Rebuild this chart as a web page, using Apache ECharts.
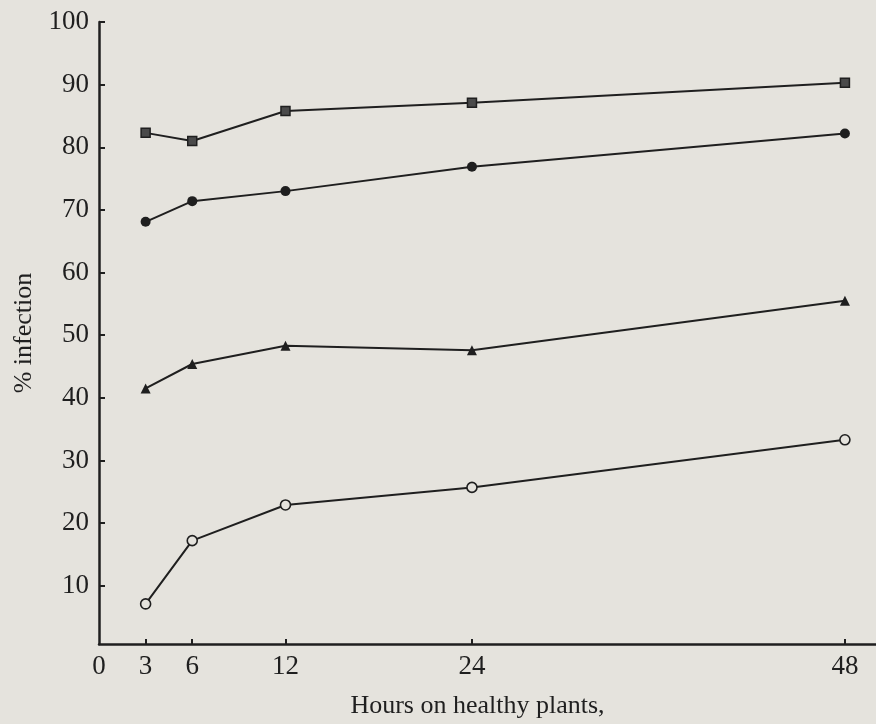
<!DOCTYPE html>
<html>
<head>
<meta charset="utf-8">
<script src="https://cdn.jsdelivr.net/npm/echarts@6/dist/echarts.min.js"></script>
<style>
html,body{margin:0;padding:0;background:#e5e3dd;}
#chart{width:876px;height:724px;}
</style>
</head>
<body>
<div id="chart"></div>
<script>
// Data
var hours = [3, 6, 12, 24, 48];
var squareSeries = [82.3, 81.0, 85.8, 87.1, 90.3];
var filledCircleSeries = [68.1, 71.4, 73.0, 76.9, 82.2];
var triangleSeries = [41.5, 45.4, 48.3, 47.6, 55.5];
var openCircleSeries = [7.1, 17.2, 22.9, 25.7, 33.3];
var xTickValues = [3, 6, 12, 24, 48];
var xLabelValues = [0, 3, 6, 12, 24, 48];
var yTickValues = [10, 20, 30, 40, 50, 60, 70, 80, 90, 100];
var xName = 'Hours on healthy plants,';
var yName = '% infection';

var ink = '#1f1f1f';
var bg = '#e5e3dd';
var font = 'Liberation Serif';

function pairs(vals) {
  return hours.map(function (h, i) { return [h, vals[i]]; });
}

function lineSeries(vals, symbol, size, fill, border, bw) {
  return {
    type: 'line',
    data: pairs(vals),
    symbol: symbol,
    symbolSize: size,
    showAllSymbol: true,
    lineStyle: { color: ink, width: 2 },
    itemStyle: { color: fill, borderColor: border, borderWidth: bw, opacity: 1 },
    emphasis: { disabled: true },
    z: 3
  };
}

var chart = echarts.init(document.getElementById('chart'), null, { renderer: 'canvas' });
chart.setOption({
  backgroundColor: bg,
  animation: false,
  grid: { left: 99, right: 0, top: 22, bottom: 80, containLabel: false, outerBoundsMode: 'none' },
  xAxis: {
    type: 'value',
    min: 0,
    max: 50,
    name: xName,
    nameLocation: 'middle',
    nameGap: 49,
    nameTextStyle: { fontFamily: font, fontSize: 26, color: ink, padding: [0, 20, 0, 0] },
    axisLine: { onZero: false, lineStyle: { color: ink, width: 2.5 } },
    axisTick: { show: true, inside: true, length: 5, customValues: xTickValues, lineStyle: { color: ink, width: 2 } },
    axisLabel: { customValues: xLabelValues, fontFamily: font, fontSize: 27, color: ink, margin: 9 },
    splitLine: { show: false }
  },
  yAxis: {
    type: 'value',
    min: 0.7,
    max: 100,
    name: yName,
    nameLocation: 'middle',
    nameGap: 58,
    nameTextStyle: { fontFamily: font, fontSize: 26, color: ink },
    axisLine: { show: true, lineStyle: { color: ink, width: 2.5 } },
    axisTick: { show: true, inside: true, length: 6, customValues: yTickValues, lineStyle: { color: ink, width: 2 } },
    axisLabel: { customValues: yTickValues, fontFamily: font, fontSize: 27, color: ink, margin: 10 },
    splitLine: { show: false }
  },
  series: [
    lineSeries(squareSeries, 'rect', 9, '#4a4a4a', ink, 1.5),
    lineSeries(filledCircleSeries, 'circle', 10, ink, ink, 0),
    lineSeries(triangleSeries, 'triangle', 10, ink, ink, 0),
    lineSeries(openCircleSeries, 'circle', 10, bg, ink, 1.6)
  ]
});
</script>
</body>
</html>
